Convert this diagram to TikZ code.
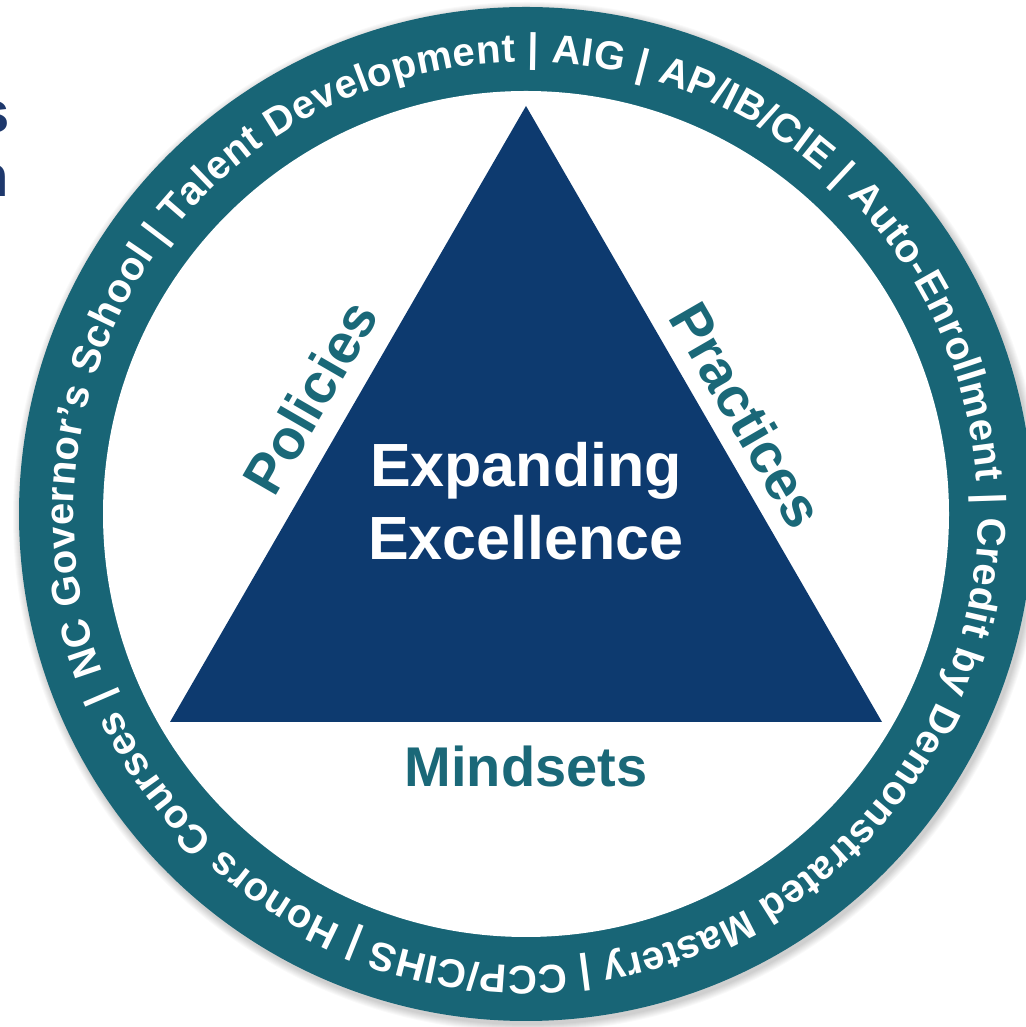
\documentclass[tikz,border=0pt]{standalone}
\usepackage{fontspec}
\setmainfont{Liberation Sans}
\usetikzlibrary{decorations.text}
\definecolor{ringteal}{RGB}{24,101,118}
\definecolor{trinavy}{RGB}{13,58,111}
\definecolor{labelteal}{RGB}{26,104,120}
\definecolor{titlenavy}{RGB}{30,56,108}
\begin{document}
\begin{tikzpicture}[x=1pt,y=1pt,
  lbl/.style={font=\bfseries\fontsize{56}{56}\selectfont, text=labelteal, inner sep=0pt},
  centre/.style={font=\bfseries\fontsize{61}{73}\selectfont, text=white, align=center, inner sep=0pt},
  partial/.style={font=\bfseries\fontsize{58}{58}\selectfont, text=titlenavy, inner sep=0pt, anchor=base east},
  ringtext/.style={decorate, decoration={text along path, text format delimiters={[}{]},
     text align={fit to path},
     text={[\color{white}\bfseries\fontsize{40}{40}\selectfont]NC Governor’s School | Talent Development | AIG | AP/IB/CIE | Auto-Enrollment | Credit by Demonstrated Mastery | CCP/CIHS | Honors Courses |}}}]
\useasboundingbox (0,0) rectangle (1025,1027);
\fill[white] (0,0) rectangle (1025,1027);
\coordinate (C) at (526,513);
% soft shadow
\foreach \i in {1,...,8}
  \fill[black,opacity=0.022] ([shift={(2,-3)}]C) circle[radius={507pt+\i pt}];
% ring
\fill[ringteal] (C) circle[radius=507pt];
\fill[white] (C) circle[radius=423pt];
% ring text
\path[ringtext] (C) ++(200.5:452pt) arc[start angle=200.5, end angle=-157.3, radius=452pt];
% triangle
\coordinate (apex) at (526,921);
\coordinate (bl) at (170,305);
\coordinate (br) at (882,305);
\fill[trinavy] (apex) -- (br) -- (bl) -- cycle;
% labels
\node[centre] (title) at (526,525.3) {Expanding\\Excellence};
\node[lbl, rotate=60] (pol) at (310,630) {Policies};
\node[lbl, rotate=-60] (pra) at (747,612) {Practices};
\node[lbl] (mind) at (526,261) {Mindsets};
% partial title letters at left edge
\node[partial] (ps) at (10,894) {s};
\node[partial] (pn) at (9,830) {n};
\end{tikzpicture}
\end{document}
